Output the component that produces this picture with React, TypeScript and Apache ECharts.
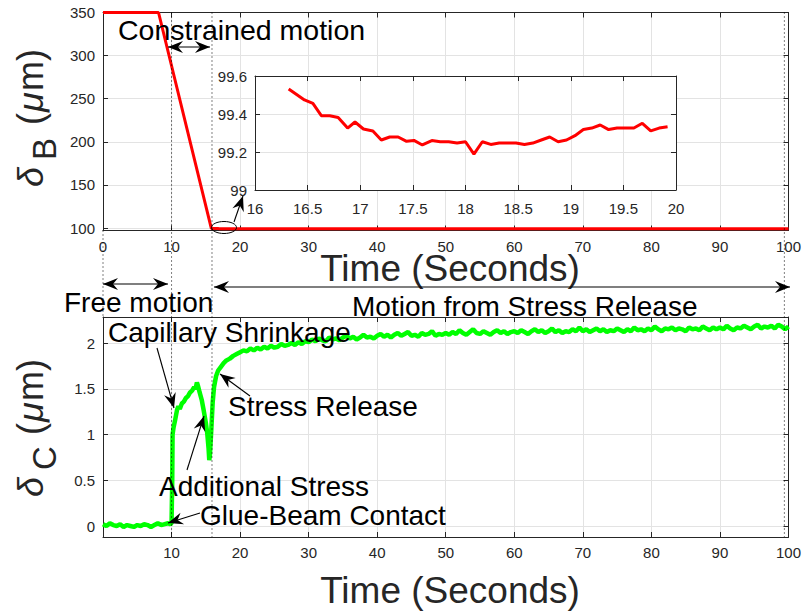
import React, { useEffect, useRef } from 'react';
import * as echarts from 'echarts';

const FONT = '"Liberation Sans", Arial, Helvetica, sans-serif';
const AX = '#262626';
const GRIDC = '#e3e3e3';

// ---- tick labels ----
const topYTicks = [100, 150, 200, 250, 300, 350];
const bottomXTicks = [10, 20, 30, 40, 50, 60, 70, 80, 90, 100];
const bottomYTicks = [0, 0.5, 1, 1.5, 2];

// ---- delta_B (top panel) ----
const dropTime = [0, 8.1, 15.8];
const dropDelta = [350, 350, 99.6];
const insetTime = [16.32, 16.47, 16.55, 16.63, 16.71, 16.79, 16.88, 16.95, 17.03, 17.12, 17.2, 17.28, 17.36, 17.44, 17.51, 17.59, 17.68, 17.76, 17.84, 17.92, 18.0, 18.08, 18.16, 18.24, 18.32, 18.4, 18.48, 18.56, 18.64, 18.72, 18.8, 18.88, 18.96, 19.04, 19.12, 19.2, 19.28, 19.36, 19.44, 19.52, 19.6, 19.68, 19.76, 19.84, 19.92];
const insetDelta = [99.532, 99.474, 99.456, 99.391, 99.391, 99.382, 99.326, 99.358, 99.321, 99.311, 99.263, 99.279, 99.279, 99.256, 99.261, 99.237, 99.26, 99.254, 99.254, 99.247, 99.254, 99.189, 99.254, 99.24, 99.247, 99.247, 99.247, 99.239, 99.247, 99.263, 99.279, 99.254, 99.263, 99.286, 99.318, 99.326, 99.342, 99.318, 99.326, 99.326, 99.326, 99.351, 99.311, 99.326, 99.333];
const tailTime = [100];
const tailDelta = [99.33];

// ---- delta_C (bottom panel) ----
const earlyStart = 0;
const earlyStep = 0.5;
const earlyDelta = [0.02, 0.0, 0.03, 0.01, 0.0, 0.02, -0.01, 0.01, 0.0, -0.01, 0.01, 0.0, 0.02, 0.01, -0.01, 0.01, 0.03, 0.01, 0.02, 0.03];
const transitionTime = [9.8, 10.0, 10.1, 10.15, 10.3, 10.5, 10.8, 11.0, 11.2, 11.5, 11.8, 12.1, 12.4, 12.7, 13.0, 13.3, 13.5, 13.7, 13.9, 14.1, 14.4, 14.7, 15.0, 15.2, 15.4, 15.5, 15.6, 15.8, 16.0, 16.2, 16.5, 16.8, 17.2, 17.6, 18.0, 18.5, 19.0, 19.5];
const transitionDelta = [0.02, 0.03, 0.5, 1.0, 1.08, 1.15, 1.27, 1.31, 1.28, 1.34, 1.36, 1.4, 1.42, 1.46, 1.48, 1.52, 1.5, 1.57, 1.52, 1.46, 1.38, 1.26, 1.13, 1.02, 0.85, 0.72, 0.78, 1.05, 1.35, 1.52, 1.64, 1.7, 1.74, 1.78, 1.81, 1.83, 1.86, 1.88];
const lateStart = 20;
const lateStep = 0.5;
const lateDelta = [
  1.9, 1.92, 1.91, 1.94, 1.92, 1.95, 1.93, 1.96, 1.94, 1.97, 1.95, 1.96, 1.99, 1.97, 1.98, 2.0, 1.98, 2.01, 1.99, 2.02,
  2.01, 2.04, 2.02, 2.05, 2.03, 2.02, 2.06, 2.04, 2.05, 2.03, 2.06, 2.08, 2.05, 2.07, 2.04, 2.06, 2.09, 2.06, 2.07, 2.05,
  2.08, 2.1, 2.07, 2.09, 2.06, 2.09, 2.11, 2.08, 2.1, 2.12, 2.08, 2.09, 2.07, 2.11, 2.09, 2.1, 2.13, 2.08, 2.1, 2.09,
  2.11, 2.09, 2.12, 2.1, 2.14, 2.11, 2.09, 2.12, 2.15, 2.11, 2.1, 2.13, 2.11, 2.09, 2.12, 2.14, 2.11, 2.13, 2.1, 2.12,
  2.13, 2.11, 2.14, 2.12, 2.1, 2.13, 2.15, 2.12, 2.14, 2.11, 2.13, 2.16, 2.12, 2.14, 2.11, 2.13, 2.12, 2.15, 2.13, 2.17,
  2.13, 2.15, 2.12, 2.14, 2.16, 2.13, 2.15, 2.12, 2.14, 2.13, 2.16, 2.14, 2.12, 2.15, 2.13, 2.17, 2.14, 2.15, 2.13, 2.16,
  2.14, 2.18, 2.15, 2.13, 2.16, 2.15, 2.17, 2.14, 2.16, 2.15, 2.13, 2.17, 2.15, 2.16, 2.14, 2.18, 2.16, 2.14, 2.17, 2.15,
  2.17, 2.15, 2.19, 2.16, 2.14, 2.17, 2.16, 2.19, 2.17, 2.15, 2.18, 2.2, 2.16, 2.18, 2.17, 2.19, 2.16, 2.2, 2.18, 2.15, 2.18,
];

// vertical dotted markers (time, s)
const markerTimes = [10, 15.9, 99.4];

const zip = (t: number[], v: number[]) => t.map((x, i) => [x, v[i]]);

function arrowHead(x1: number, y1: number, x2: number, y2: number, len = 15, half = 6, back = 5) {
  const a = Math.atan2(y2 - y1, x2 - x1);
  const ux = Math.cos(a), uy = Math.sin(a);
  const px = -uy, py = ux;
  const bx = x2 - ux * len, by = y2 - uy * len;
  return {
    type: 'polygon', z: 100,
    shape: { points: [[x2, y2], [bx + px * half, by + py * half], [x2 - ux * (len - back), y2 - uy * (len - back)], [bx - px * half, by - py * half]] },
    style: { fill: '#000' },
  };
}

function arrow(x1: number, y1: number, x2: number, y2: number, both = false) {
  const els: any[] = [
    { type: 'line', z: 100, shape: { x1, y1, x2, y2 }, style: { stroke: '#000', lineWidth: 1.1 } },
    arrowHead(x1, y1, x2, y2),
  ];
  if (both) els.push(arrowHead(x2, y2, x1, y1));
  return els;
}

function txt(text: string, x: number, y: number, size = 28, align = 'left', color = '#000') {
  return {
    type: 'text', z: 100, x, y,
    style: { text, fontSize: size, fontFamily: FONT, fill: color, align, verticalAlign: 'middle' },
  };
}

function yLabel(x: number, y: number, sub: string) {
  const base = { fontFamily: FONT, fill: AX, verticalAlign: 'middle', align: 'left' };
  return {
    type: 'group', x, y, rotation: Math.PI / 2, z: 100,
    children: [
      { type: 'text', x: 0, y: 0, style: { ...base, text: 'δ', fontSize: 36, fontStyle: 'italic' } },
      { type: 'text', x: 27, y: 14, style: { ...base, text: sub, fontSize: 33 } },
      { type: 'text', x: 62, y: 0, style: { ...base, text: '(', fontSize: 36 } },
      { type: 'text', x: 75, y: 0, style: { ...base, text: 'μ', fontSize: 36, fontStyle: 'italic' } },
      { type: 'text', x: 96, y: 0, style: { ...base, text: 'm)', fontSize: 36 } },
    ],
  };
}

function boxAxes(gridIndex: number, xCfg: any, yCfg: any, z = 0) {
  const line = { show: true, onZero: false, lineStyle: { color: AX, width: 1 } };
  const tick = { show: true, inside: true, length: 5, lineStyle: { color: AX, width: 1 } };
  const lab = { color: AX, fontSize: 15, fontFamily: FONT };
  const split = { show: true, lineStyle: { color: GRIDC, width: 1 } };
  const xs = [
    { gridIndex, type: 'value', position: 'bottom', z, ...xCfg.range, axisLine: line, axisTick: { ...tick, ...(xCfg.tick || {}) }, axisLabel: { ...lab, margin: xCfg.margin ?? 8, ...(xCfg.label || {}) }, splitLine: split },
    { gridIndex, type: 'value', position: 'top', z, ...xCfg.range, axisLine: line, axisTick: { ...tick, ...(xCfg.tick || {}) }, axisLabel: { show: false }, splitLine: { show: false } },
  ];
  const ys = [
    { gridIndex, type: 'value', position: 'left', z, ...yCfg.range, axisLine: line, axisTick: { ...tick, ...(yCfg.tick || {}) }, axisLabel: { ...lab, margin: 8, ...(yCfg.label || {}) }, splitLine: split },
    { gridIndex, type: 'value', position: 'right', z, ...yCfg.range, axisLine: line, axisTick: { ...tick, ...(yCfg.tick || {}) }, axisLabel: { show: false }, splitLine: { show: false } },
  ];
  return { xs, ys };
}

export default function App() {
  const ref = useRef<HTMLDivElement>(null);
  useEffect(() => {
    if (!ref.current) return;
    const chart = echarts.init(ref.current, null, { renderer: 'svg' });

    const top = boxAxes(0, { range: { min: 0, max: 100, interval: 10 } },
      { range: { min: 97.2, max: 350 }, tick: { customValues: topYTicks }, label: { customValues: topYTicks } });
    const inset = boxAxes(1, { range: { min: 16, max: 20, interval: 0.5 }, margin: 11 },
      { range: { min: 99, max: 99.6, interval: 0.2 } }, 6);
    const bottom = boxAxes(2, { range: { min: 0, max: 100, interval: 10 }, label: { customValues: bottomXTicks } },
      { range: { min: -0.12, max: 2.285 }, tick: { customValues: bottomYTicks }, label: { customValues: bottomYTicks } });

    const redMain = [...zip(dropTime, dropDelta), ...zip(insetTime, insetDelta), ...zip(tailTime, tailDelta)];
    const green = [
      ...earlyDelta.map((v, i) => [earlyStart + i * earlyStep, v]),
      ...zip(transitionTime, transitionDelta),
      ...lateDelta.map((v, i) => [lateStart + i * lateStep, v]),
    ];

    chart.setOption({
      animation: false,
      backgroundColor: '#fff',
      grid: [
        { left: 103, top: 12.5, width: 689, height: 218 },
        { left: 255, top: 76, width: 421, height: 114, show: true, backgroundColor: '#fff', borderWidth: 0, z: 5 },
        { left: 103, top: 317, width: 689, height: 220 },
      ],
      xAxis: [...top.xs, ...inset.xs, ...bottom.xs],
      yAxis: [...top.ys, ...inset.ys, ...bottom.ys],
      series: [
        { type: 'line', xAxisIndex: 0, yAxisIndex: 0, data: redMain, showSymbol: false, clip: false, lineStyle: { color: '#ff0000', width: 3 }, z: 3 },
        { type: 'line', xAxisIndex: 2, yAxisIndex: 2, data: zip(insetTime, insetDelta), showSymbol: false, lineStyle: { color: '#ff0000', width: 3 }, z: 10 },
        { type: 'line', xAxisIndex: 4, yAxisIndex: 4, data: green, showSymbol: false, clip: false, lineStyle: { color: '#00ff00', width: 4.5 }, z: 3 },
      ],
    });

    const gx = (t: number) => chart.convertToPixel({ xAxisIndex: 0 }, t) as number;
    const topY = 12.5, midTop = 230.5, midBot = 317, botY = 537;
    const dotted: any[] = markerTimes.map((t) => ({
      type: 'line', z: 50, shape: { x1: gx(t), y1: topY, x2: gx(t), y2: botY },
      style: { stroke: '#000', lineWidth: 1, lineDash: [1, 3] },
    }));
    dotted.push({ type: 'line', z: 50, shape: { x1: gx(0), y1: midTop, x2: gx(0), y2: midBot }, style: { stroke: '#000', lineWidth: 1, lineDash: [1, 3] } });

    const graphic = [
      ...dotted,
      txt('Constrained motion', 118, 30, 28.5),
      ...arrow(168, 47, 210, 47, true),
      txt('Time (Seconds)', 450, 268, 37, 'center', AX),
      txt('Time (Seconds)', 450, 590, 37, 'center', AX),
      ...arrow(103, 284, 168, 284, true),
      txt('Free motion', 64, 302),
      ...arrow(214, 287, 790, 287, true),
      txt('Motion from Stress Release', 352, 306),
      { type: 'ellipse', z: 100, shape: { cx: 224, cy: 227.5, rx: 12.5, ry: 6 }, style: { fill: 'none', stroke: '#000', lineWidth: 1 } },
      ...arrow(234, 222, 243, 196),
      txt('Capillary Shrinkage', 108, 332),
      ...arrow(157, 348, 174, 408),
      txt('Stress Release', 228, 406),
      ...arrow(250, 396, 220, 374),
      txt('Additional Stress', 159, 486),
      ...arrow(187, 470, 204, 416),
      txt('Glue-Beam Contact', 200, 515),
      ...arrow(200, 513, 168, 523),
      yLabel(30.5, 187, 'B'),
      yLabel(30.5, 497, 'C'),
    ];
    chart.setOption({ graphic });

    return () => chart.dispose();
  }, []);
  return <div ref={ref} style={{ width: 804, height: 614, position: 'absolute', left: 0, top: 0 }} />;
}
